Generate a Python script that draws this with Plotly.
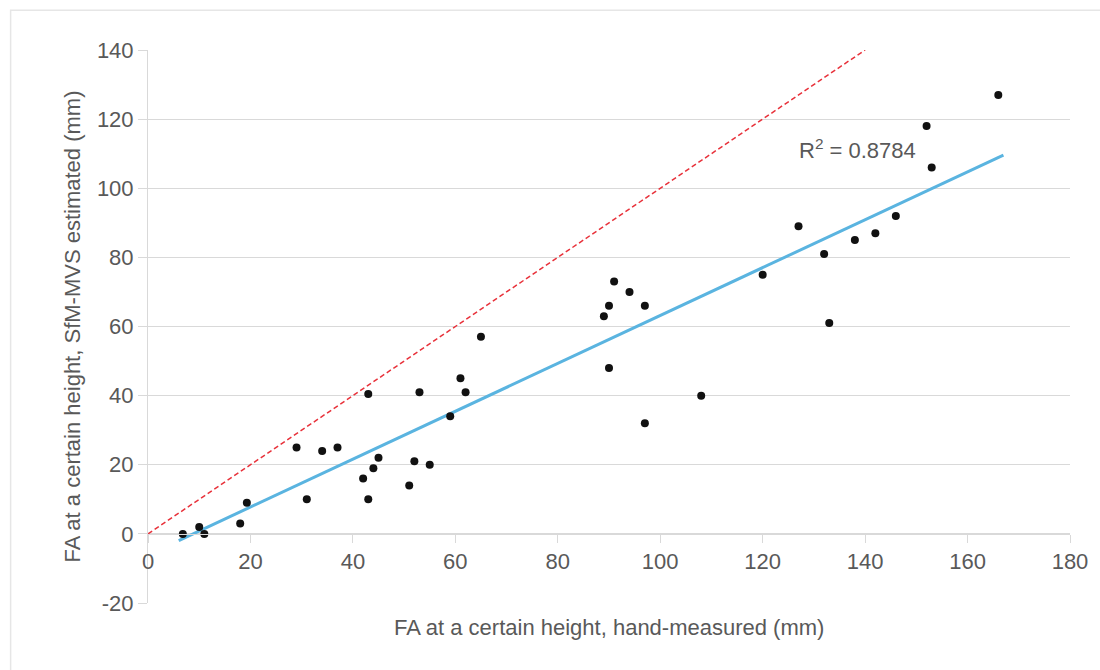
import plotly.graph_objects as go

# Hand-measured FA (x) vs SfM-MVS estimated FA (y), mm
hand_measured = [6.8, 10, 11, 18, 19.3, 29, 31, 34, 37, 42, 43, 44, 45, 51, 52, 55, 59,
                 43, 53, 61, 62, 65, 89, 90, 91, 94, 97, 90, 97, 108,
                 120, 127, 132, 133, 138, 142, 146, 152, 153, 166]
sfm_estimated = [0, 2, 0, 3, 9, 25, 10, 24, 25, 16, 10, 19, 22, 14, 21, 20, 34,
                 40.5, 41, 45, 41, 57, 63, 66, 73, 70, 66, 48, 32, 40,
                 75, 89, 81, 61, 85, 87, 92, 118, 106, 127]

# Linear trendline (as displayed)
trend_x = [6.0, 167.0]
trend_slope = 0.6927
trend_intercept = -6.09
r2_label = "R<sup>2</sup> = 0.8784"

# 1:1 reference line
one_to_one = [0, 140]

x_ticks = [0, 20, 40, 60, 80, 100, 120, 140, 160, 180]
y_ticks = [-20, 0, 20, 40, 60, 80, 100, 120, 140]

trend_y = [trend_slope * v + trend_intercept for v in trend_x]

font_family = "Liberation Sans, Arial, sans-serif"
grey = "#595959"
fs = 22

fig = go.Figure()
fig.add_trace(go.Scatter(x=one_to_one, y=one_to_one, mode="lines",
                         line=dict(color="#e8313a", width=1.5, dash="5px,3px"),
                         hoverinfo="skip", showlegend=False))
fig.add_trace(go.Scatter(x=trend_x, y=trend_y, mode="lines",
                         line=dict(color="#5ab4e0", width=3),
                         hoverinfo="skip", showlegend=False))
fig.add_trace(go.Scatter(x=hand_measured, y=sfm_estimated, mode="markers",
                         marker=dict(color="#111111", size=8),
                         showlegend=False))

fig.add_annotation(x=138.5, y=111.5, text=r2_label, showarrow=False,
                   font=dict(family=font_family, size=fs, color=grey))
fig.add_annotation(xref="paper", yref="paper", x=0.5, y=-0.045, yanchor="middle",
                   text="FA at a certain height, hand-measured (mm)", showarrow=False,
                   font=dict(family=font_family, size=fs, color=grey))

# outer chart border
fig.add_shape(type="rect", xref="paper", yref="paper",
              x0=-0.149, x1=1.05, y0=-0.2, y1=1.072,
              line=dict(color="#e6e6e6", width=1.5), layer="below")

fig.update_layout(
    width=1100, height=670,
    margin=dict(l=147.5, r=30, t=50, b=67),
    paper_bgcolor="white", plot_bgcolor="white",
    font=dict(family=font_family, size=fs, color=grey),
    xaxis=dict(range=[0, 180], tickvals=x_ticks, ticktext=[str(v) for v in x_ticks],
               showgrid=False, zeroline=False,
               anchor="free", position=0.125, showline=True, linecolor="#d9d9d9",
               ticks="outside", ticklen=8, tickcolor="#d9d9d9",
               tickfont=dict(size=fs, color=grey), fixedrange=True),
    yaxis=dict(range=[-20, 140], tickvals=y_ticks, ticktext=[str(v) for v in y_ticks],
               showgrid=True, gridcolor="#d9d9d9",
               zeroline=False, showline=True, linecolor="#d9d9d9",
               ticks="outside", ticklen=9, tickcolor="#d9d9d9",
               tickfont=dict(size=fs, color=grey),
               title=dict(text="FA at a certain height, SfM-MVS estimated (mm)",
                          font=dict(size=fs, color=grey), standoff=10),
               fixedrange=True),
)

fig.write_html("out.html")
